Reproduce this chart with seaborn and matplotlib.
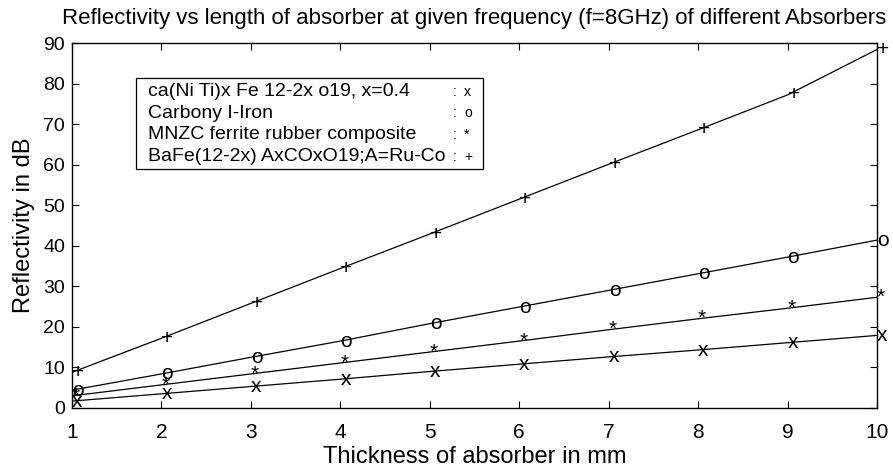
import numpy as np
import pandas as pd
import matplotlib
matplotlib.use("Agg")
import matplotlib.pyplot as plt
from matplotlib.patches import Rectangle
import seaborn as sns

# ---------------- data ----------------
thickness = [1, 2, 3, 4, 5, 6, 7, 8, 9, 10]
ca_ni_ti = [1.7, 3.5, 5.3, 7.1, 9.0, 10.8, 12.6, 14.3, 16.1, 17.9]
carbony_iron = [4.4, 8.4, 12.5, 16.5, 20.8, 24.9, 29.0, 33.1, 37.2, 41.4]
mnzc_ferrite = [3.0, 5.7, 8.4, 11.1, 13.8, 16.5, 19.3, 22.0, 24.6, 27.3]
bafe = [8.8, 17.2, 25.8, 34.4, 42.9, 51.5, 60.1, 68.6, 77.2, 88.4]

series_names = ["ca(Ni Ti)x Fe 12-2x o19, x=0.4",
                "Carbony I-Iron",
                "MNZC ferrite rubber composite",
                "BaFe(12-2x) AxCOxO19;A=Ru-Co"]
series_values = [ca_ni_ti, carbony_iron, mnzc_ferrite, bafe]
series_markers = ["x", "o", "*", "+"]

title = "Reflectivity vs length of absorber at given frequency (f=8GHz) of different Absorbers"
xlabel = "Thickness of absorber in mm"
ylabel = "Reflectivity in dB"
xticks = [1, 2, 3, 4, 5, 6, 7, 8, 9, 10]
yticks = [0, 10, 20, 30, 40, 50, 60, 70, 80, 90]

# ---------------- style ----------------
sns.set_theme(style="white")
plt.rcParams["font.family"] = ["Liberation Sans", "DejaVu Sans"]
plt.rcParams["axes.linewidth"] = 1.0
plt.rcParams["xtick.direction"] = "in"
plt.rcParams["ytick.direction"] = "in"

fig = plt.figure(figsize=(8.93, 4.72), dpi=100)
ax = fig.add_axes([72 / 893, 64 / 472, 805 / 893, 365 / 472])

rows = []
for name, vals in zip(series_names, series_values):
    for t, v in zip(thickness, vals):
        rows.append({"thickness": t, "value": v, "series": name})
df = pd.DataFrame(rows)

sns.lineplot(data=df, x="thickness", y="value", hue="series",
             palette=["black"] * 4, estimator=None, sort=False,
             linewidth=0.9, legend=False, ax=ax)

# text-glyph markers, MATLAB style (left aligned at data point)
for vals, mk in zip(series_values, series_markers):
    for t, v in zip(thickness, vals):
        ax.text(t, v, mk, ha="left", va="center", fontsize=15,
                color="black", clip_on=False)

ax.set_xlim(1, 10)
ax.set_ylim(0, 90)
ax.set_xticks(xticks)
ax.set_yticks(yticks)
ax.tick_params(axis="x", labelsize=15, length=5, width=0.8, colors="black",
               top=True, bottom=True, pad=11)
ax.tick_params(axis="y", labelsize=14, length=5, width=0.8, colors="black",
               left=True, right=True, pad=5)
for s in ax.spines.values():
    s.set_color("black")
    s.set_visible(True)

ax.set_xlabel(xlabel, fontsize=17, color="black", labelpad=3)
ax.set_ylabel(ylabel, fontsize=17, color="black", labelpad=6)
ax.set_title(title, fontsize=16, color="black", pad=14)

# MATLAB-style legend box
lx0, ly0, lx1, ly1 = 0.0795, 0.655, 0.5106, 0.904
ax.add_patch(Rectangle((lx0, ly0), lx1 - lx0, ly1 - ly0, transform=ax.transAxes,
                       facecolor="white", edgecolor="black", linewidth=0.9,
                       zorder=5))
line_y = [0.866, 0.808, 0.749, 0.688]
for name, mk, yy in zip(series_names, series_markers, line_y):
    ax.text(0.0948, yy, name, transform=ax.transAxes, ha="left", va="center",
            fontsize=14, color="black", zorder=6)
    ax.text(0.473, yy, ":", transform=ax.transAxes, ha="left", va="center",
            fontsize=10, color="black", zorder=6)
    ax.text(0.487, yy, mk, transform=ax.transAxes, ha="left", va="center",
            fontsize=10, color="black", zorder=6)

fig.savefig("out.png", dpi=100)
